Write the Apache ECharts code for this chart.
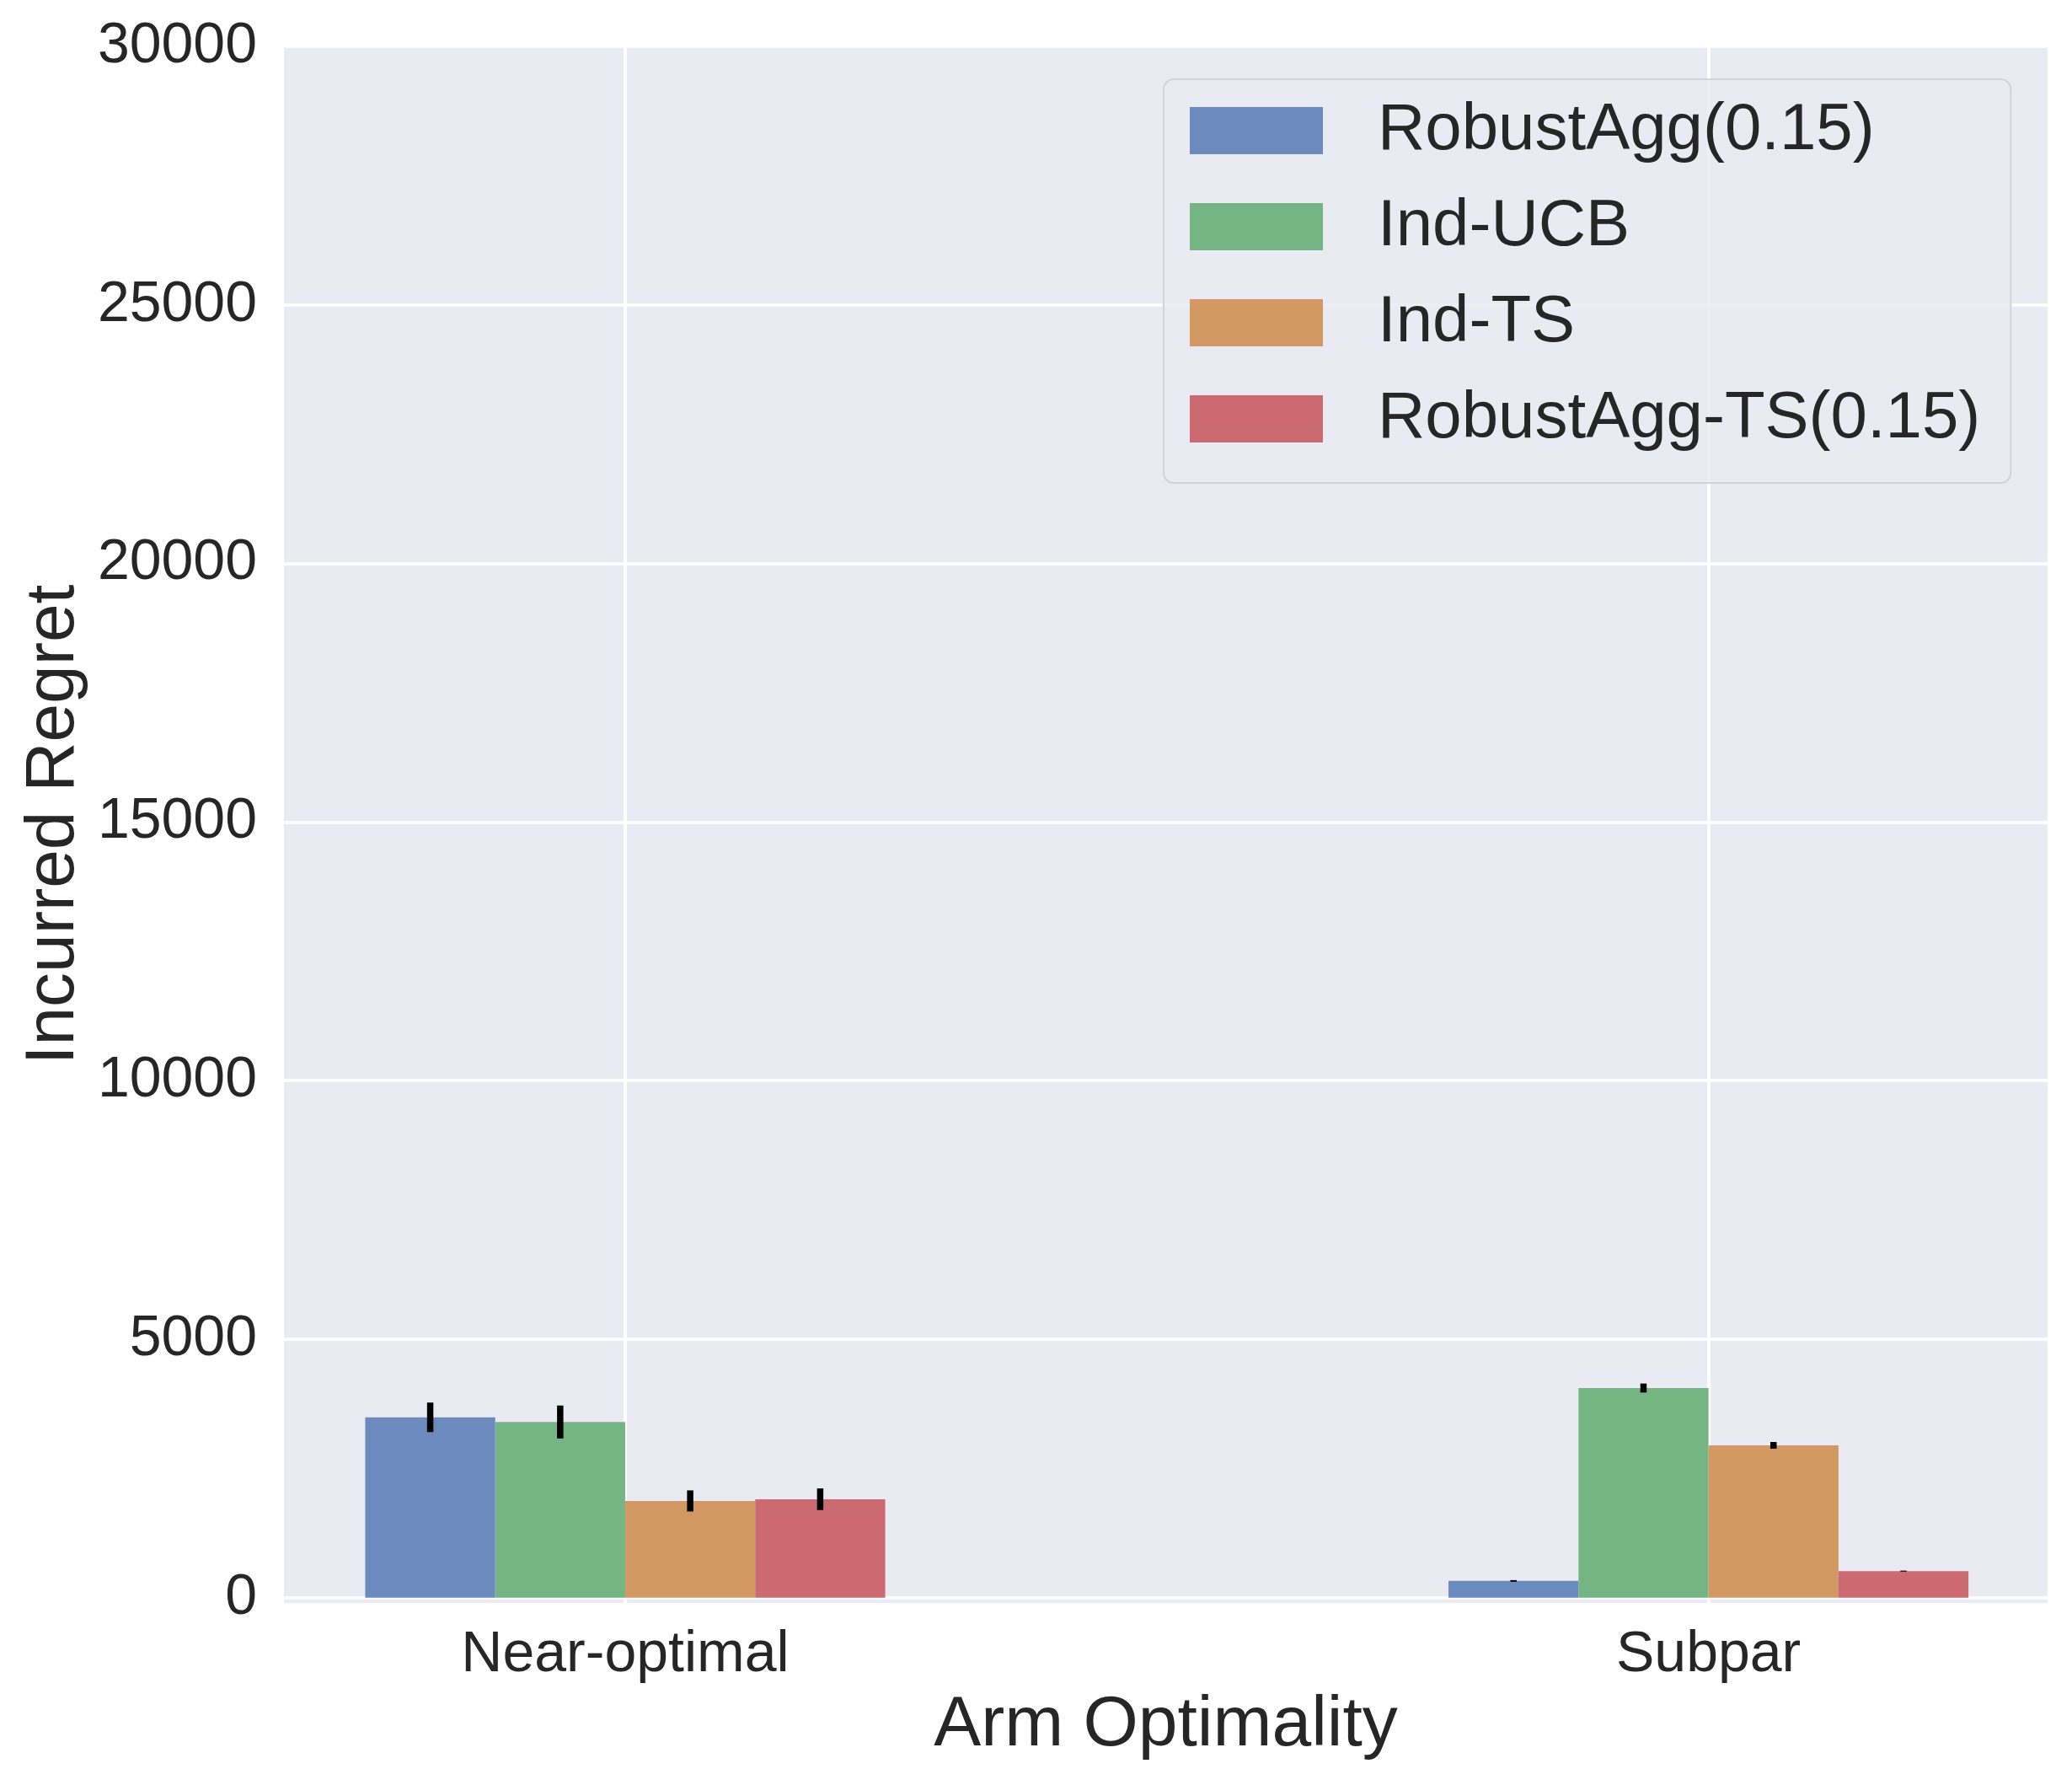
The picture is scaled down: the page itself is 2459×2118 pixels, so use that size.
<!DOCTYPE html>
<html>
<head>
<meta charset="utf-8">
<script src="https://cdn.jsdelivr.net/npm/echarts@6/dist/echarts.min.js"></script>
<style>
  html, body { margin: 0; padding: 0; background: #fff; }
  #chart { width: 2459px; height: 2118px; }
</style>
</head>
<body>
<div id="chart"></div>
<script>
// categories and methods
var categories = ['Near-optimal', 'Subpar'];
var methods = ['RobustAgg(0.15)', 'Ind-UCB', 'Ind-TS', 'RobustAgg-TS(0.15)'];
var colors = ['#6b8bbf', '#74b583', '#d29963', '#cb6b71'];

// mean regret per category
var robustAgg   = [3490, 326];
var indUcb      = [3400, 4056];
var indTs       = [1873, 2948];
var robustAggTs = [1906, 516];

// half width of the error bars
var robustAggErr   = [285, 16];
var indUcbErr      = [318, 87];
var indTsErr       = [204, 65];
var robustAggTsErr = [209, 10];

var yTicks = [0, 5000, 10000, 15000, 20000, 25000, 30000];
var xTicks = [0, 1];

var means = [robustAgg, indUcb, indTs, robustAggTs];
var errs = [robustAggErr, indUcbErr, indTsErr, robustAggTsErr];

var W = 2459, H = 2118;
var gridLeft = 337, gridRight = 29, gridTop = 55, gridBottom = 216;
var xMin = -0.315, xMax = 1.313;
var barUnit = 0.12; // width of one bar in x units
var barPx = (W - gridLeft - gridRight) / (xMax - xMin) * barUnit;

var font = '"Liberation Sans", Arial, Helvetica, sans-serif';
var textColor = '#262626';

var series = [];
methods.forEach(function (name, i) {
    series.push({
        name: name,
        type: 'bar',
        barWidth: barPx,
        barGap: '0%',
        itemStyle: { color: colors[i] },
        data: categories.map(function (c, k) { return [xTicks[k], means[i][k]]; }),
        z: 2
    });
});

// error bars
var errData = [];
methods.forEach(function (name, i) {
    categories.forEach(function (c, k) {
        var x = xTicks[k] + (i - 1.5) * barUnit;
        errData.push([x, means[i][k] - errs[i][k], means[i][k] + errs[i][k]]);
    });
});
series.push({
    type: 'custom',
    name: 'err',
    z: 5,
    data: errData,
    encode: { x: 0, y: [1, 2] },
    renderItem: function (params, api) {
        var lo = api.coord([api.value(0), api.value(1)]);
        var hi = api.coord([api.value(0), api.value(2)]);
        return {
            type: 'line',
            shape: { x1: lo[0], y1: lo[1], x2: hi[0], y2: hi[1] },
            style: { stroke: '#000', lineWidth: 7.5 }
        };
    }
});

var chart = echarts.init(document.getElementById('chart'), null, { renderer: 'canvas' });
chart.setOption({
    animation: false,
    backgroundColor: '#fff',
    textStyle: { fontFamily: font },
    grid: {
        left: gridLeft, right: gridRight, top: gridTop, bottom: gridBottom,
        show: true, backgroundColor: '#eaeaf2', borderWidth: 0,
        containLabel: false
    },
    legend: {
        data: methods,
        orient: 'vertical',
        left: 1381,
        top: 94,
        padding: [22, 36, 37, 31],
        itemWidth: 158,
        itemHeight: 56,
        itemGap: 36,
        icon: 'rect',
        backgroundColor: 'rgba(234,234,242,0.8)',
        borderColor: '#d2d2d8',
        borderWidth: 2,
        borderRadius: 12,
        textStyle: {
            fontFamily: font, fontSize: 78, color: textColor,
            padding: [0, 0, 0, 60]
        }
    },
    xAxis: {
        type: 'value',
        min: xMin,
        max: xMax,
        name: 'Arm Optimality',
        nameLocation: 'middle',
        nameGap: 104,
        nameTextStyle: { fontFamily: font, fontSize: 84, color: textColor },
        axisLine: { show: false },
        axisTick: { show: false, customValues: xTicks },
        axisLabel: {
            customValues: xTicks,
            margin: 28,
            fontFamily: font, fontSize: 68, color: textColor,
            formatter: function (v) { return categories[Math.round(v)]; }
        },
        splitLine: { show: true, lineStyle: { color: '#fff', width: 3.7 } }
    },
    yAxis: {
        type: 'value',
        min: -100,
        max: 30000,
        name: 'Incurred Regret',
        nameLocation: 'middle',
        nameRotate: 90,
        nameGap: 221,
        nameTextStyle: { fontFamily: font, fontSize: 82, color: textColor },
        axisLine: { show: false },
        axisTick: { show: false, customValues: yTicks },
        axisLabel: {
            customValues: yTicks,
            margin: 32,
            fontFamily: font, fontSize: 68, color: textColor,
            formatter: function (v) { return String(v); }
        },
        splitLine: { show: true, lineStyle: { color: '#fff', width: 3.7 } }
    },
    series: series
});
</script>
</body>
</html>
